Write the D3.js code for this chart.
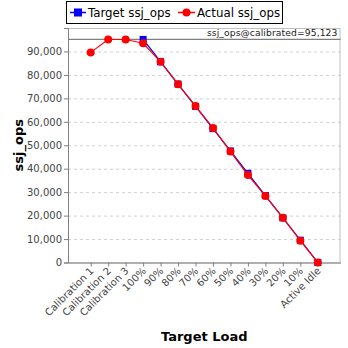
<!DOCTYPE html>
<html><head><meta charset="utf-8">
<script src="https://cdn.jsdelivr.net/npm/d3@7"></script>
<style>body{margin:0;background:#fff}svg{display:block}text{font-family:"DejaVu Sans",sans-serif}</style>
</head><body><svg id="c" width="348" height="348"></svg>
<script>
const categories = ["Calibration 1","Calibration 2","Calibration 3","100%","90%","80%","70%","60%","50%","40%","30%","20%","10%","Active Idle"];
const targetOps = [null,null,null,95123,85611,76098,66586,57074,47562,38049,28537,19025,9512,0];
const actualOps = [89600,95100,95100,93500,85600,76000,66700,57400,47300,37300,28400,19100,9300,0];
const yTicks = [0,10000,20000,30000,40000,50000,60000,70000,80000,90000];
const calibrated = 95123;

const svg = d3.select("#c");
const L=68, R=340.5, T=28, B=262.5;
const x = d3.scalePoint().domain(categories).range([L,R]).padding(1.3);
const y = d3.scaleLinear().domain([0,100000]).range([B,T]);
const fmt = d3.format(",");

svg.append("g").selectAll("line").data(yTicks.filter(d=>d>0)).join("line")
  .attr("x1",L).attr("x2",R).attr("y1",d=>y(d)+0.5).attr("y2",d=>y(d)+0.5)
  .attr("stroke","#d0d0d0").attr("stroke-dasharray","3,3").attr("stroke-width",1);
svg.append("rect").attr("x",L+0.5).attr("y",T+0.5).attr("width",R-L-1).attr("height",B-T)
  .attr("fill","none").attr("stroke","#c0c0c0");
const ya = svg.append("g").attr("transform",`translate(${L},0)`)
  .call(d3.axisLeft(y).tickValues(yTicks).tickFormat(fmt).tickSize(4).tickPadding(2));
ya.select(".domain").attr("stroke","#808080");
ya.selectAll(".tick line").attr("stroke","#808080");
ya.selectAll("text").attr("font-size","10px").attr("fill","#444").style("font-family","DejaVu Sans");
const xa = svg.append("g").attr("transform",`translate(0,${B})`)
  .call(d3.axisBottom(x).tickSize(4).tickSizeOuter(0));
xa.select(".domain").attr("stroke","#808080");
xa.selectAll(".tick line").attr("stroke","#808080");
xa.selectAll("text").attr("font-size","10px").attr("fill","#444").style("font-family","DejaVu Sans")
  .attr("text-anchor","end").attr("dy",null).attr("y",0)
  .attr("transform","translate(3,9) rotate(-45)");

svg.append("line").attr("x1",L).attr("x2",R).attr("y1",y(calibrated)).attr("y2",y(calibrated))
  .attr("stroke","#808080").attr("stroke-width",1.2);
svg.append("text").attr("x",R-3).attr("y",y(calibrated)-3).attr("text-anchor","end")
  .attr("font-size","9.2px").attr("letter-spacing","0.1px").attr("fill","#222").text("ssj_ops@calibrated="+fmt(calibrated));

const tData = categories.map((c,i)=>({c,v:targetOps[i]})).filter(d=>d.v!==null);
const aData = categories.map((c,i)=>({c,v:actualOps[i]}));
const line = d3.line().x(d=>x(d.c)).y(d=>y(d.v));
svg.append("path").datum(tData).attr("d",line).attr("fill","none").attr("stroke","#0000ff").attr("stroke-width",1.2);
svg.selectAll(".sq").data(tData).join("rect").attr("x",d=>x(d.c)-3.5).attr("y",d=>y(d.v)-3.5)
  .attr("width",7).attr("height",7).attr("fill","#0000ff");
svg.append("path").datum(aData).attr("d",line).attr("fill","none").attr("stroke","#ff0000").attr("stroke-width",1.2);
svg.selectAll(".ci").data(aData).join("circle").attr("cx",d=>x(d.c)).attr("cy",d=>y(d.v))
  .attr("r",4).attr("fill","#ff0000");

svg.append("text").attr("transform",`translate(23,${(T+B)/2}) rotate(-90)`).attr("text-anchor","middle")
  .attr("font-size","13px").attr("font-weight","bold").attr("fill","#000").text("ssj_ops");
svg.append("text").attr("x",(L+R)/2).attr("y",341).attr("text-anchor","middle")
  .attr("font-size","13px").attr("font-weight","bold").attr("fill","#000").text("Target Load");

const lg = svg.append("g");
lg.append("rect").attr("x",66.5).attr("y",1.5).attr("width",216).attr("height",22).attr("fill","#fff").attr("stroke","#000");
lg.append("line").attr("x1",70).attr("x2",86).attr("y1",12.5).attr("y2",12.5).attr("stroke","#0000ff").attr("stroke-width",1.5);
lg.append("rect").attr("x",74).attr("y",8.5).attr("width",8).attr("height",8).attr("fill","#0000ff");
lg.append("text").attr("x",88).attr("y",17).attr("font-size","11.8px").attr("fill","#000").text("Target ssj_ops");
lg.append("line").attr("x1",178).attr("x2",195).attr("y1",12.5).attr("y2",12.5).attr("stroke","#ff0000").attr("stroke-width",1.5);
lg.append("circle").attr("cx",186.5).attr("cy",12.5).attr("r",4).attr("fill","#ff0000");
lg.append("text").attr("x",197).attr("y",17).attr("font-size","11.8px").attr("fill","#000").text("Actual ssj_ops");
</script></body></html>
